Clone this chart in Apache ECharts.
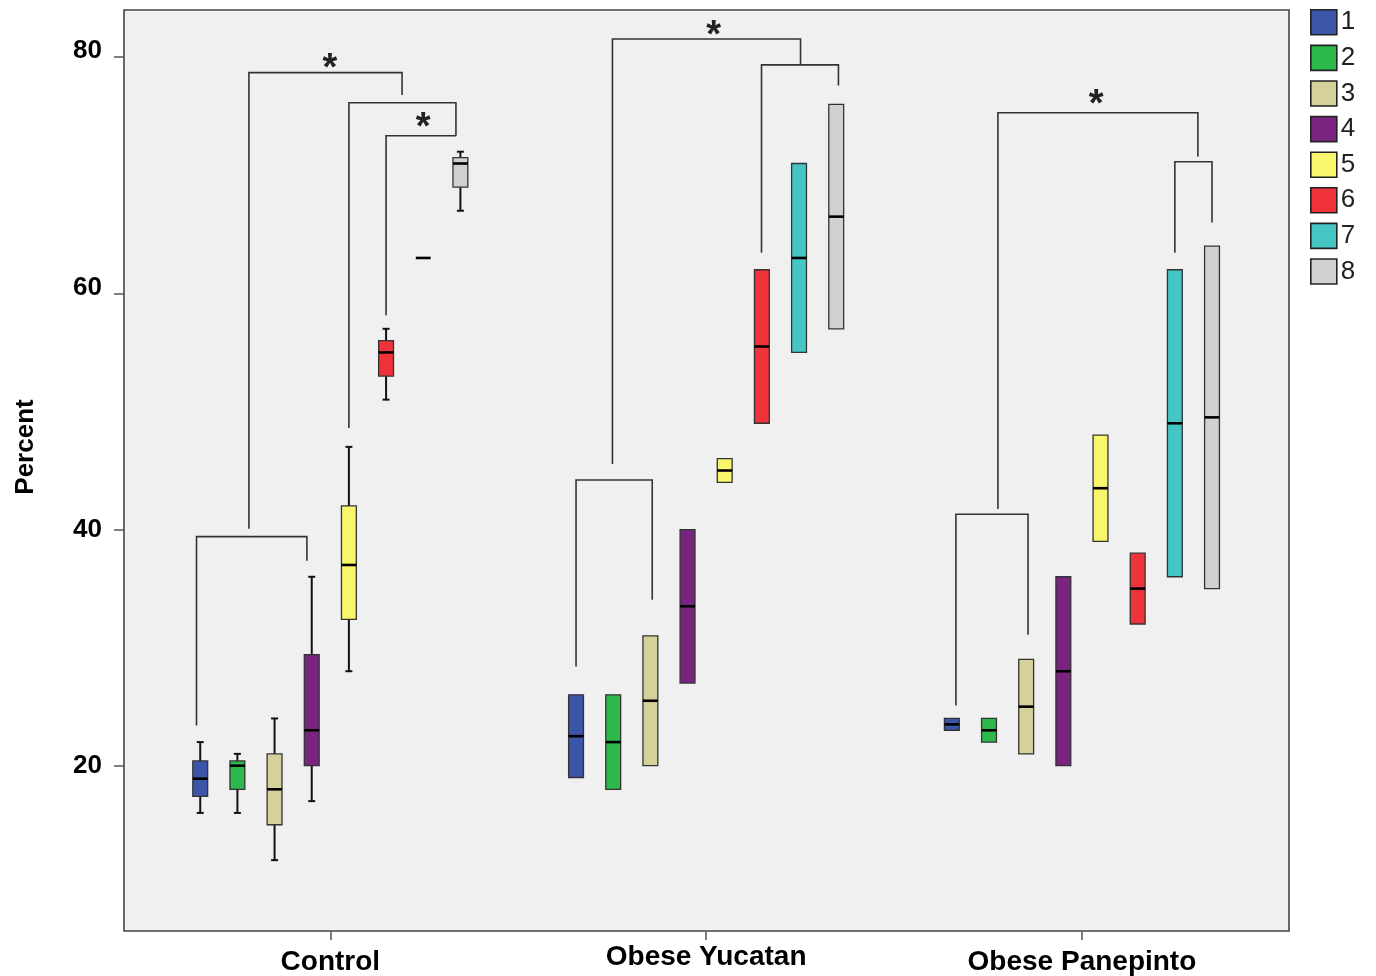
<!DOCTYPE html>
<html>
<head>
<meta charset="utf-8">
<script src="https://cdn.jsdelivr.net/npm/echarts@6/dist/echarts.min.js"></script>
<style>
  html, body { margin: 0; padding: 0; background: #ffffff; }
  #chart { width: 1376px; height: 976px; }
</style>
</head>
<body>
<div id="chart"></div>
<script>
// Groups along the x axis and the y tick values
const groups = ['Control', 'Obese Yucatan', 'Obese Panepinto'];
const yTicks = [20, 40, 60, 80];

// Series names (legend) and fill colours
const seriesNames = ['1', '2', '3', '4', '5', '6', '7', '8'];
const colors = ['#3b56a8', '#2db84c', '#d6d19b', '#7a2480', '#f9f56c', '#f0323a', '#46c5c5', '#d0d0d0'];

// Box statistics per series, one row per group: [min, Q1, median, Q3, max]
const s1 = [[16, 17.4, 18.9, 20.4, 22], [19, 19, 22.5, 26, 26], [23, 23, 23.5, 24, 24]];
const s2 = [[16, 18, 20, 20.4, 21], [18, 18, 22, 26, 26], [22, 22, 23, 24, 24]];
const s3 = [[12, 15, 18, 21, 24], [20, 20, 25.5, 31, 31], [21, 21, 25, 29, 29]];
const s4 = [[17, 20, 23, 29.4, 36], [27, 27, 33.5, 40, 40], [20, 20, 28, 36, 36]];
const s5 = [[28, 32.4, 37, 42, 47], [44, 44, 45, 46, 46], [39, 39, 43.5, 48, 48]];
const s6 = [[51, 53, 55, 56, 57], [49, 49, 55.5, 62, 62], [32, 32, 35, 38, 38]];
const s7 = [[63, 63, 63, 63, 63], [55, 55, 63, 71, 71], [36, 36, 49, 62, 62]];
const s8 = [[67, 69, 71, 71.5, 72], [57, 57, 66.5, 76, 76], [35, 35, 49.5, 64, 64]];
const seriesStats = [s1, s2, s3, s4, s5, s6, s7, s8];

// Significance brackets: [group, left slot, left end, right slot, right end, top]
const brackets = [
  [0, -0.1, 23.4, 2.87, 37.35, 39.4],
  [0, 1.31, 40.06, 5.43, 76.8, 78.7],
  [0, 4.0, 48.6, 6.88, 73.35, 76.15],
  [0, 5.0, 58.15, 6.88, 73.35, 73.35],
  [1, 0.0, 28.4, 2.05, 34.05, 44.2],
  [1, 0.98, 45.55, 6.04, 79.35, 81.55],
  [1, 4.99, 63.45, 7.06, 77.6, 79.35],
  [2, 0.11, 25.1, 2.05, 31.1, 41.3],
  [2, 1.24, 41.75, 6.62, 71.6, 75.3],
  [2, 6.0, 63.45, 7.0, 66.0, 71.15]
];
// Asterisks: [group, slot, value]
const stars = [[0, 3.49, 79.7], [0, 6.0, 74.7], [1, 3.7, 82.5], [2, 3.88, 76.7]];

// Width of one box slot, in group units
const SLOT = 0.0989;
const FONT = '"Liberation Sans", Arial, Helvetica, sans-serif';

function slotX(group, slot) {
  return group + (slot - 3.5) * SLOT;
}

function renderBox(params, api) {
  const x = api.value(0);
  const mn = api.value(1), q1 = api.value(2), md = api.value(3), q3 = api.value(4), mx = api.value(5);
  const half = api.size([SLOT, 0])[0] * 0.2;
  const cap = 3.5;
  const pMin = api.coord([x, mn]);
  const pQ1 = api.coord([x, q1]);
  const pMd = api.coord([x, md]);
  const pQ3 = api.coord([x, q3]);
  const pMax = api.coord([x, mx]);
  const cx = pMd[0];
  const wStyle = { stroke: '#111', lineWidth: 2 };
  const children = [];
  if (mx > q3) {
    children.push({ type: 'line', shape: { x1: cx, y1: pMax[1], x2: cx, y2: pQ3[1] }, style: wStyle });
    children.push({ type: 'line', shape: { x1: cx - cap, y1: pMax[1], x2: cx + cap, y2: pMax[1] }, style: wStyle });
  }
  if (mn < q1) {
    children.push({ type: 'line', shape: { x1: cx, y1: pQ1[1], x2: cx, y2: pMin[1] }, style: wStyle });
    children.push({ type: 'line', shape: { x1: cx - cap, y1: pMin[1], x2: cx + cap, y2: pMin[1] }, style: wStyle });
  }
  if (q3 > q1) {
    children.push({
      type: 'rect',
      shape: { x: cx - half, y: pQ3[1], width: 2 * half, height: pQ1[1] - pQ3[1] },
      style: { fill: api.visual('color'), stroke: '#333', lineWidth: 1.3 }
    });
  }
  children.push({
    type: 'line',
    shape: { x1: cx - half, y1: pMd[1], x2: cx + half, y2: pMd[1] },
    style: { stroke: '#000', lineWidth: 2.6 }
  });
  return { type: 'group', children: children };
}

function renderBracket(params, api) {
  const a = api.coord([api.value(0), api.value(1)]);
  const t1 = api.coord([api.value(0), api.value(4)]);
  const t2 = api.coord([api.value(2), api.value(4)]);
  const b = api.coord([api.value(2), api.value(3)]);
  return {
    type: 'polyline',
    shape: { points: [a, t1, t2, b] },
    style: { stroke: '#333', lineWidth: 1.6, fill: null }
  };
}

function renderStar(params, api) {
  const p = api.coord([api.value(0), api.value(1)]);
  return {
    type: 'text',
    x: p[0],
    y: p[1] + 9,
    style: {
      text: '*',
      fontSize: 38,
      fontWeight: 'bold',
      fontFamily: FONT,
      fill: '#222',
      align: 'center',
      verticalAlign: 'middle'
    }
  };
}

const boxSeries = seriesNames.map(function (name, i) {
  return {
    name: name,
    type: 'custom',
    renderItem: renderBox,
    itemStyle: { color: colors[i] },
    encode: { x: 0, y: [1, 2, 3, 4, 5] },
    data: seriesStats[i].map(function (row, g) {
      return [slotX(g, i)].concat(row);
    }),
    z: 3
  };
});

const bracketSeries = {
  name: 'brackets',
  type: 'custom',
  renderItem: renderBracket,
  encode: { x: [0, 2], y: [1, 3, 4] },
  data: brackets.map(function (b) {
    return [slotX(b[0], b[1]), b[2], slotX(b[0], b[3]), b[4], b[5]];
  }),
  clip: false,
  z: 2
};

const starSeries = {
  name: 'stars',
  type: 'custom',
  renderItem: renderStar,
  encode: { x: 0, y: 1 },
  data: stars.map(function (s) { return [slotX(s[0], s[1]), s[2]]; }),
  clip: false,
  z: 4
};

const labelRich = {
  hi: { fontSize: 26, fontWeight: 'bold', color: '#000', fontFamily: FONT, padding: [0, 0, 12, 0] },
  lo: { fontSize: 26, fontWeight: 'bold', color: '#000', fontFamily: FONT }
};

const chart = echarts.init(document.getElementById('chart'), null, { renderer: 'canvas' });
chart.setOption({
  animation: false,
  backgroundColor: '#ffffff',
  textStyle: { fontFamily: FONT },
  grid: {
    left: 124, right: 87, top: 10, bottom: 43,
    show: true,
    backgroundColor: '#f0f0f0',
    borderColor: '#444',
    borderWidth: 1.6
  },
  legend: {
    data: seriesNames,
    orient: 'vertical',
    left: 1305,
    top: 4,
    icon: 'rect',
    itemWidth: 26,
    itemHeight: 25,
    itemGap: 9,
    itemStyle: { borderColor: '#222', borderWidth: 1.6 },
    textStyle: { fontSize: 26, color: '#222', fontFamily: FONT, padding: [0, 0, 0, -1] },
    selectedMode: false
  },
  xAxis: {
    type: 'value',
    min: -0.549,
    max: 2.551,
    axisLine: { show: false, onZero: false },
    splitLine: { show: false },
    axisTick: { show: true, customValues: [0, 1, 2], length: 9, lineStyle: { color: '#555', width: 1.5 } },
    axisLabel: {
      customValues: [0, 1, 2],
      margin: 12,
      fontSize: 28,
      fontWeight: 'bold',
      color: '#000',
      fontFamily: FONT,
      formatter: function (v) {
        const name = groups[Math.round(v)];
        return Math.round(v) === 1 ? name : '{low|' + name + '}';
      },
      rich: {
        low: { fontSize: 28, fontWeight: 'bold', color: '#000', fontFamily: FONT, padding: [5, 0, 0, 0] }
      }
    }
  },
  yAxis: {
    type: 'value',
    min: 6,
    max: 84,
    axisLine: { show: false, onZero: false },
    splitLine: { show: false },
    axisTick: { show: true, customValues: yTicks, length: 10, lineStyle: { color: '#555', width: 1.5 } },
    axisLabel: {
      customValues: yTicks,
      margin: 22,
      fontSize: 26,
      fontWeight: 'bold',
      color: '#000',
      fontFamily: FONT,
      formatter: function (v) {
        return (v >= 60 ? '{hi|' : '{lo|') + v + '}';
      },
      rich: labelRich
    }
  },
  graphic: [{
    type: 'text',
    x: 26,
    y: 447,
    rotation: Math.PI / 2,
    style: {
      text: 'Percent',
      fontSize: 26,
      fontWeight: 'bold',
      fontFamily: FONT,
      fill: '#000',
      align: 'center',
      verticalAlign: 'middle'
    }
  }],
  series: boxSeries.concat([bracketSeries, starSeries])
});
</script>
</body>
</html>
